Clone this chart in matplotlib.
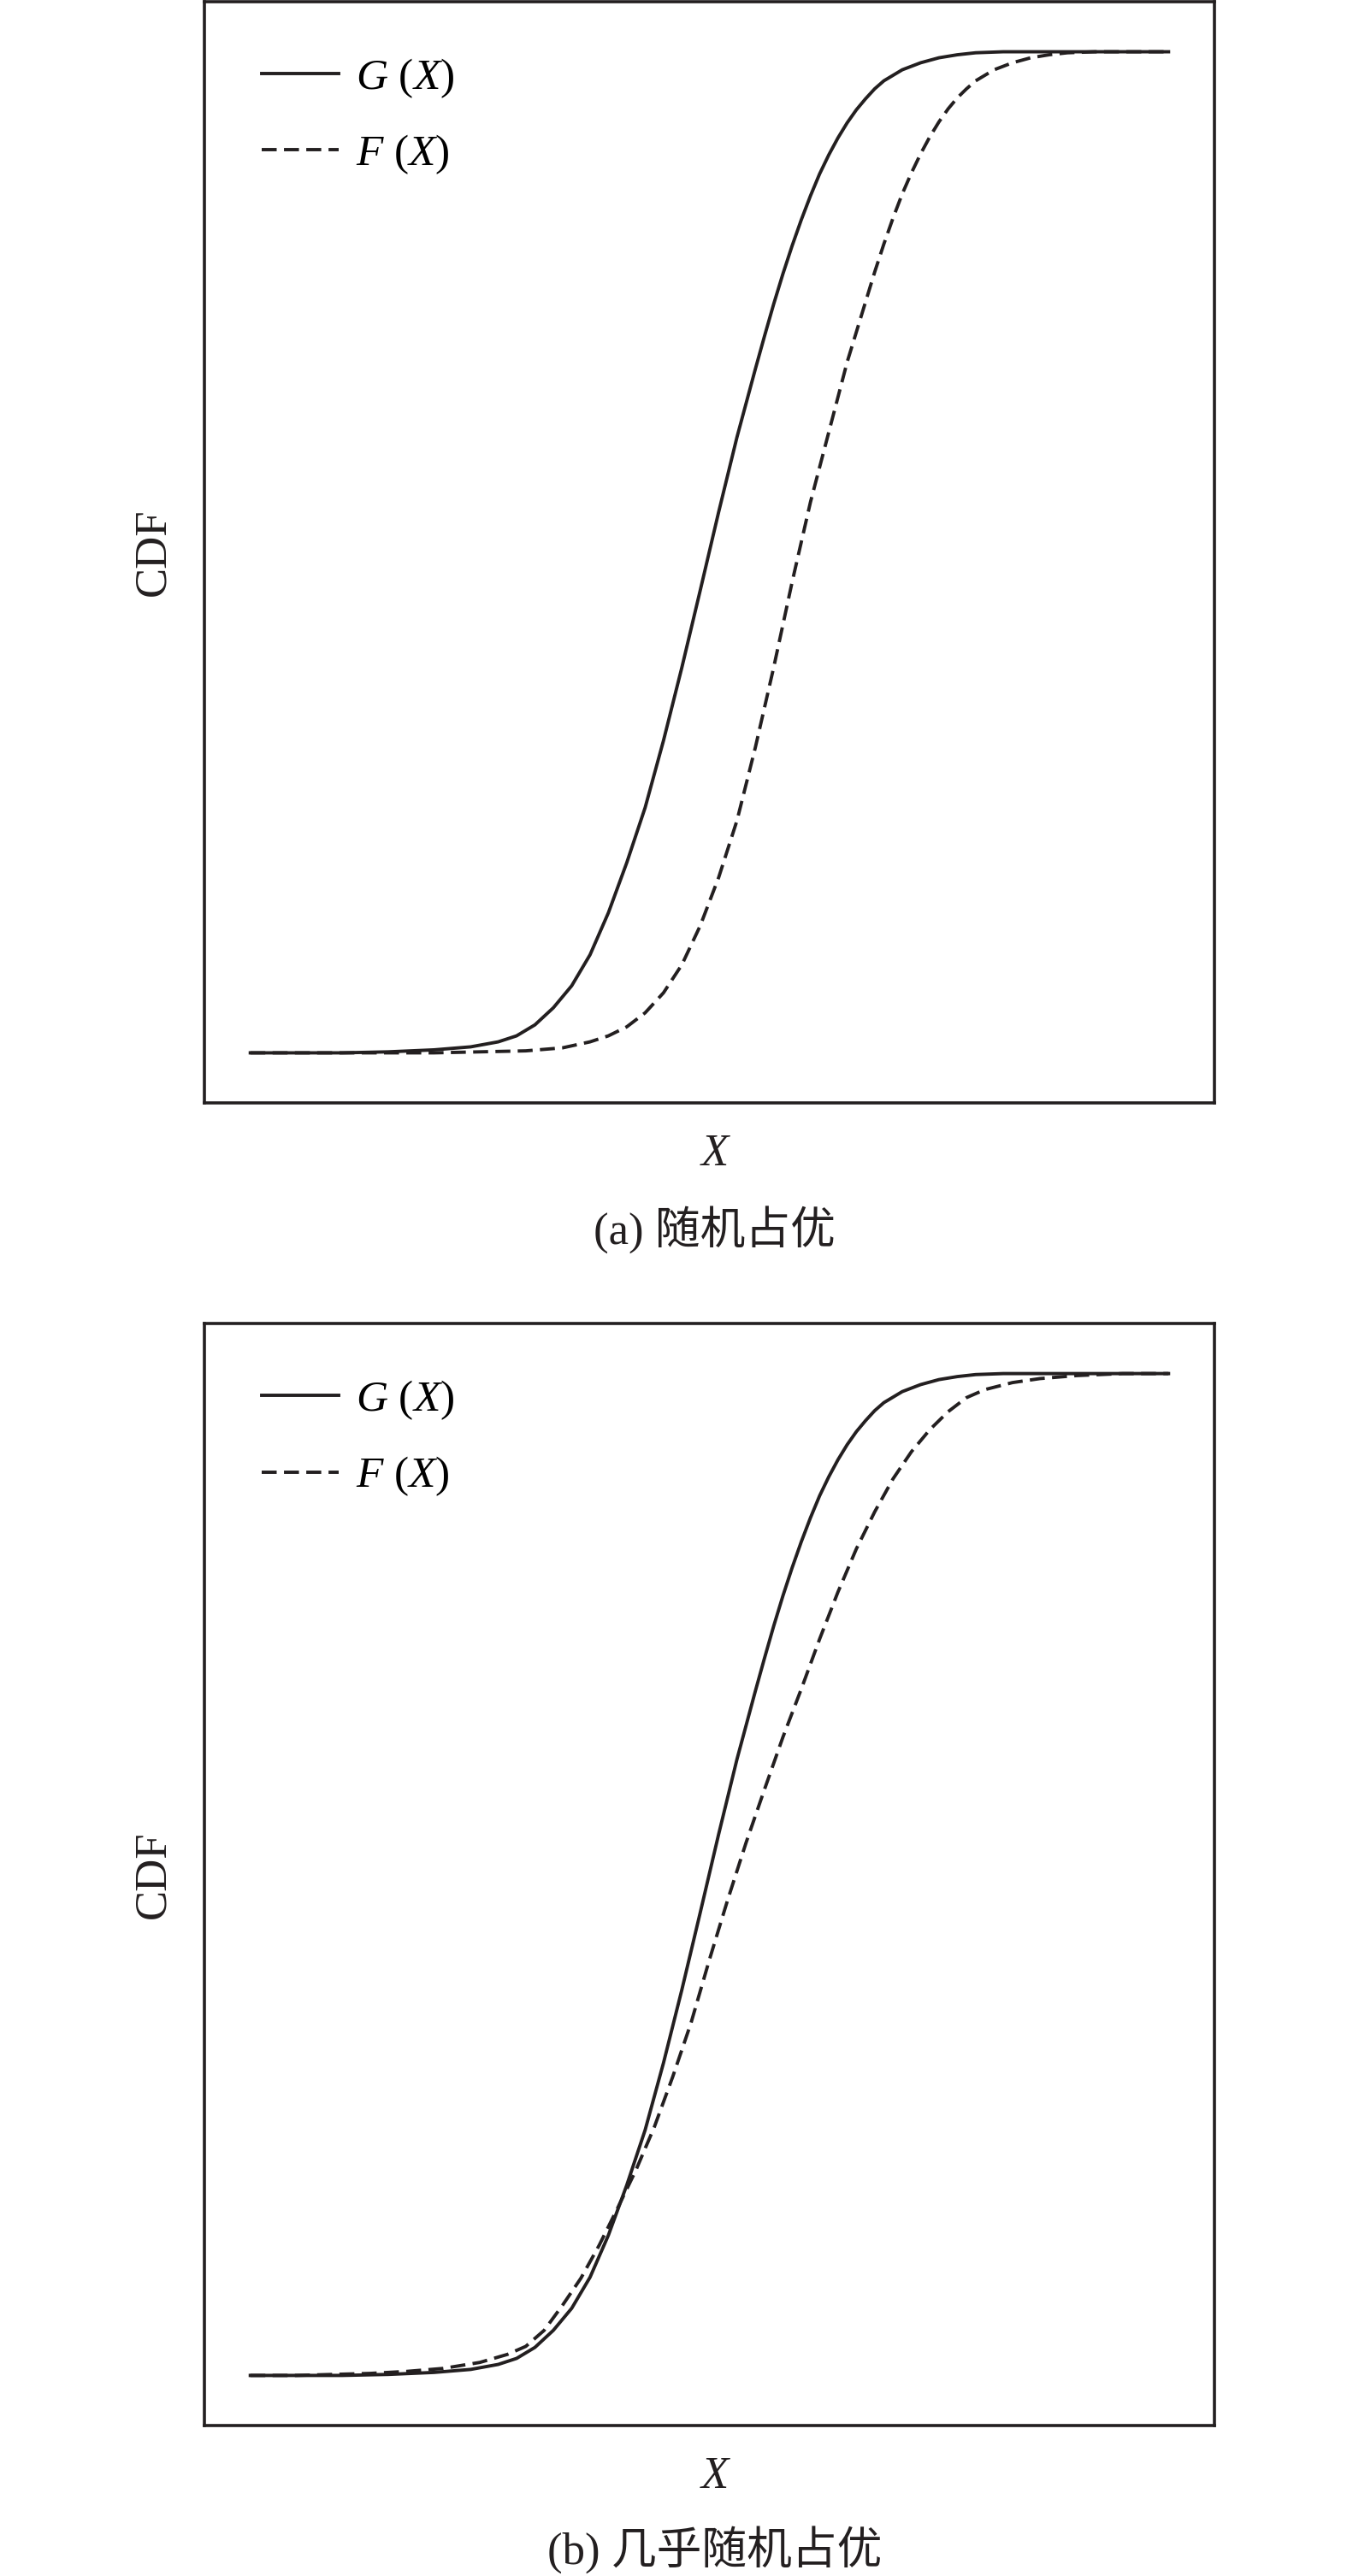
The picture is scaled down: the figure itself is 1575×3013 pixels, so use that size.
import matplotlib
matplotlib.use("Agg")
import matplotlib.pyplot as plt

plt.rcParams['font.family'] = ['Liberation Serif', 'Noto Sans CJK SC']
plt.rcParams['mathtext.fontset'] = 'custom'
plt.rcParams['mathtext.rm'] = 'Liberation Serif'
plt.rcParams['mathtext.it'] = 'Liberation Serif:italic'

# G(X): same curve in both panels
g_x = [0, .05, .10, .15, .20, .24, .27, .29, .31, .33, .35, .37, .39, .41, .43,
       .45, .47, .49, .51, .53, .55, .56, .57, .58, .59, .60, .61, .62, .63, .64,
       .65, .66, .67, .68, .69, .71, .73, .75, .77, .79, .82, .86, .92, 1]
g_y = [0, 0, 0, .001, .003, .006, .011, .017, .028, .045, .067, .098, .140, .190,
       .245, .312, .385, .462, .540, .615, .683, .716, .748, .778, .806, .832,
       .856, .878, .897, .914, .929, .942, .953, .963, .971, .982, .989, .994,
       .997, .999, 1, 1, 1, 1]

# F(X), panel (a): stochastic dominance
fa_x = [0, .10, .20, .25, .30, .34, .37, .39, .41, .43, .45, .47, .49, .51, .53,
        .55, .57, .59, .61, .63, .65, .66, .67, .68, .69, .70, .71, .72, .73, .74,
        .75, .76, .77, .78, .79, .81, .83, .85, .87, .89, .92, .96, 1]
fa_y = [0, 0, 0, .001, .002, .005, .011, .017, .026, .040, .060, .088, .127, .175,
        .232, .305, .385, .47, .55, .62, .69, .72, .75, .78, .808, .834, .858,
        .879, .898, .915, .930, .943, .954, .963, .971, .982, .989, .994, .997,
        .999, 1, 1, 1]

# F(X), panel (b): almost stochastic dominance
fb_x = [0, .05, .09, .13, .17, .21, .25, .28, .30, .32, .34, .36, .38, .40, .42,
        .44, .46, .48, .50, .52, .54, .56, .58, .60, .62, .64, .66, .68, .70, .72,
        .74, .76, .78, .80, .83, .86, .90, .95, 1]
fb_y = [0, 0, .001, .002, .004, .007, .013, .021, .029, .045, .070, .097, .130,
        .167, .205, .248, .298, .352, .415, .475, .532, .585, .637, .685, .735,
        .782, .825, .862, .895, .922, .944, .962, .976, .984, .991, .995, .998, 1, 1]

labels = ['$G$ ($X$)', '$F$ ($X$)']
captions = ['(a) 随机占优', '(b) 几乎随机占优']

W, H = 1575, 3013
ink = '#231f20'
fig = plt.figure(figsize=(W / 100, H / 100), dpi=100)

# axes boxes in pixels: left, right, top, bottom
boxes = [(239, 1420, 2, 1290), (239, 1420, 1548, 2837)]
f_sets = [(fa_x, fa_y), (fb_x, fb_y)]
xlab_y = [1350, 2897]
cap_y = [1438, 2982]

for i in range(2):
    l, r, t, b = boxes[i]
    ax = fig.add_axes([l / W, 1 - b / H, (r - l) / W, (b - t) / H])
    ax.plot(g_x, g_y, color=ink, lw=2.8, label=labels[0])
    ax.plot(f_sets[i][0], f_sets[i][1], color=ink, lw=2.8, ls=(0, (4.5, 2.2)),
            label=labels[1])
    ax.set_xticks([])
    ax.set_yticks([])
    for s in ax.spines.values():
        s.set_linewidth(2.6)
        s.set_color(ink)
    ax.legend(loc='upper left', bbox_to_anchor=(0.0567, 0.950), frameon=False,
              fontsize=37, borderpad=0, borderaxespad=0, handlelength=1.75,
              handletextpad=0.4, labelspacing=0.75)
    cx = (l + r) / 2
    fig.text(179 / W, 1 - (t + b) / 2 / H, 'CDF', rotation=90, fontsize=38,
             ha='center', va='center', color=ink)
    fig.text(cx / W + 0.004, 1 - xlab_y[i] / H, 'X', style='italic', fontsize=38,
             ha='center', va='center', color=ink)
    fig.text(cx / W + 0.004, 1 - cap_y[i] / H, captions[i], fontsize=38,
             ha='center', va='center', color=ink)

fig.savefig('out.png', dpi=100)
